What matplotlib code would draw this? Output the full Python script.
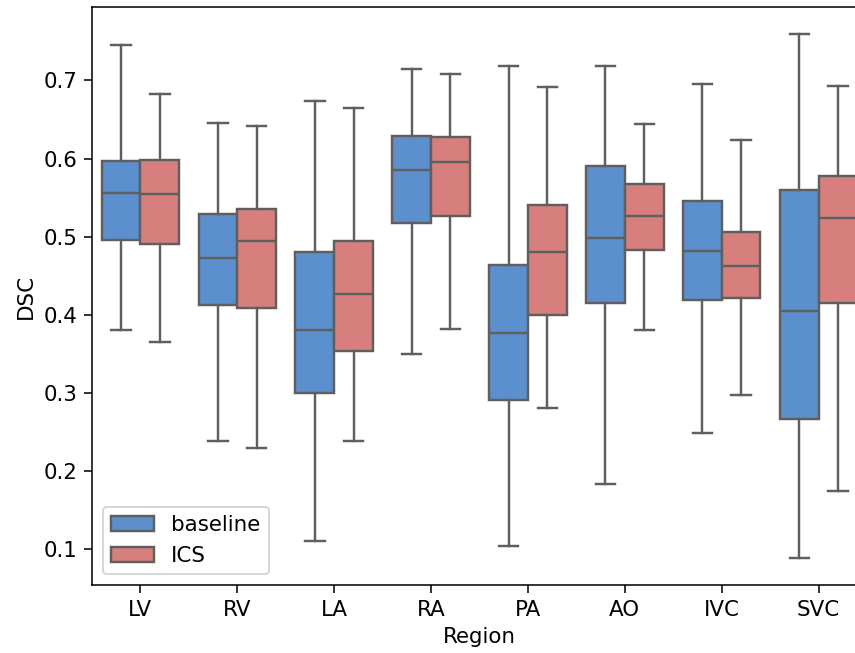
import matplotlib
matplotlib.use('Agg')
import matplotlib.pyplot as plt
from matplotlib.patches import Patch
import numpy as np
matplotlib.rcParams['font.size'] = 11

regions = ['LV', 'RV', 'LA', 'RA', 'PA', 'AO', 'IVC', 'SVC']
methods = ['baseline', 'ICS']

# five-number summaries: low whisker, q1, median, q3, high whisker
base_lo = [0.380, 0.239, 0.110, 0.350, 0.104, 0.183, 0.249, 0.088]
base_q1 = [0.496, 0.412, 0.300, 0.518, 0.291, 0.415, 0.419, 0.266]
base_med = [0.556, 0.473, 0.380, 0.585, 0.376, 0.498, 0.482, 0.405]
base_q3 = [0.597, 0.529, 0.480, 0.629, 0.464, 0.590, 0.545, 0.560]
base_hi = [0.745, 0.646, 0.674, 0.715, 0.718, 0.718, 0.695, 0.760]

ics_lo = [0.365, 0.229, 0.239, 0.382, 0.280, 0.380, 0.297, 0.174]
ics_q1 = [0.491, 0.409, 0.353, 0.527, 0.400, 0.483, 0.422, 0.415]
ics_med = [0.554, 0.495, 0.426, 0.595, 0.480, 0.527, 0.462, 0.524]
ics_q3 = [0.598, 0.536, 0.495, 0.627, 0.541, 0.567, 0.506, 0.578]
ics_hi = [0.683, 0.642, 0.665, 0.708, 0.692, 0.644, 0.624, 0.693]

colors = ['#5c8fce', '#d67f7c']
edge = '#5f5f5f'


def make_stats(lo, q1, med, q3, hi):
    return [dict(whislo=a, q1=b, med=c, q3=d, whishi=e, fliers=[])
            for a, b, c, d, e in zip(lo, q1, med, q3, hi)]


series = [make_stats(base_lo, base_q1, base_med, base_q3, base_hi),
          make_stats(ics_lo, ics_q1, ics_med, ics_q3, ics_hi)]

dpi = 140
fig = plt.figure(figsize=(855 / dpi, 653 / dpi), dpi=dpi)
ax = fig.add_axes([92 / 855, 68 / 653, 775 / 855, 578 / 653])

x = np.arange(len(regions))
lw = 1.25
for k, stats in enumerate(series):
    ax.bxp(stats, positions=x + (k - 0.5) * 0.4, widths=0.4,
           patch_artist=True, showfliers=False, manage_ticks=False,
           boxprops=dict(facecolor=colors[k], edgecolor=edge, linewidth=lw),
           whiskerprops=dict(color=edge, linewidth=lw),
           capprops=dict(color=edge, linewidth=lw),
           medianprops=dict(color=edge, linewidth=lw))

ax.set_xticks(x)
ax.set_xticklabels(regions)
ax.set_xlim(-0.5, len(regions) - 0.5)
ax.set_ylim(0.054, 0.794)
ax.set_yticks([0.1, 0.2, 0.3, 0.4, 0.5, 0.6, 0.7])
ax.tick_params(length=4)
ax.set_xlabel('Region')
ax.set_ylabel('DSC')

handles = [Patch(facecolor=c, edgecolor=edge, linewidth=lw, label=m)
           for c, m in zip(colors, methods)]
ax.legend(handles=handles, loc='lower left')

fig.savefig('out.png', dpi=dpi)
